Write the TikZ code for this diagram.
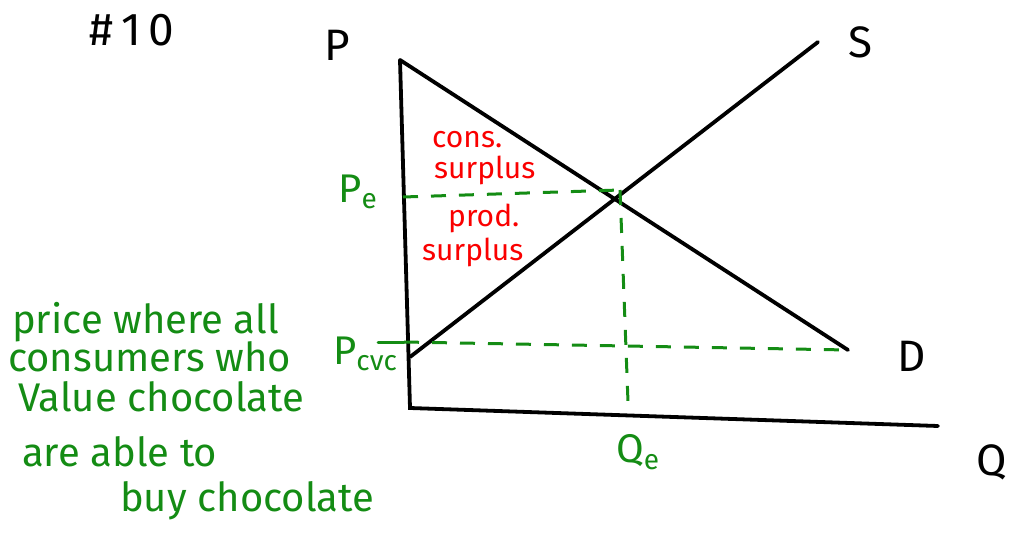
\documentclass[tikz,border=0pt]{standalone}
\usepackage{fontspec}
\setmainfont{Fira Sans}
\definecolor{hgreen}{RGB}{20,140,20}
\definecolor{hred}{RGB}{250,0,0}
\begin{document}
\begin{tikzpicture}[x=1pt,y=-1pt,
  axis/.style={line width=3.8pt,line cap=round,black},
  curve/.style={line width=3.8pt,line cap=round,black},
  gdash/.style={line width=3pt,hgreen,dash pattern=on 15pt off 13pt},
  lbl/.style={font=\fontsize{44}{46}\selectfont,black,inner sep=0pt},
  glbl/.style={font=\fontsize{40}{42}\selectfont,hgreen,inner sep=0pt},
  gnote/.style={font=\fontsize{40}{42}\selectfont,hgreen,inner sep=0pt,anchor=base west},
  rnote/.style={font=\fontsize{30}{30}\selectfont,hred,inner sep=0pt,anchor=base west}]
\useasboundingbox (0,0) rectangle (1017,540);
% coordinates
\coordinate (top) at (400,60);
\coordinate (orig) at (410,408);
\coordinate (qend) at (938,426);
\coordinate (dend) at (848,350);
\coordinate (sstart) at (410,357);
\coordinate (send) at (818,42);
\coordinate (eq) at (620,190);
\coordinate (peax) at (403,197);
\coordinate (qeax) at (628,402);
\coordinate (pcvcstart) at (378,342);
\coordinate (pcvctick) at (404,342);
% axes and curves
\draw[axis] (top) -- (orig) -- (qend);
\draw[curve] (top) -- (dend);
\draw[curve] (sstart) -- (send);
% green dashed lines
\draw[gdash] (peax) -- (eq);
\draw[gdash] (eq) -- (qeax);
\draw[line width=3pt,hgreen,line cap=round] (pcvcstart) -- (pcvctick);
\draw[gdash] (pcvctick) -- (dend);
% labels
\node[lbl,font=\fontsize{46}{48}\selectfont] (num) at (132,30) {\#\,1\,0};
\node[lbl] (plabel) at (337,45) {P};
\node[lbl] (slabel) at (860,42) {S};
\node[lbl] (dlabel) at (912,356) {D};
\node[lbl] (qlabel) at (992,462) {Q};
\node[glbl] (pe) at (358,192) {P\textsubscript{e}};
\node[glbl] (qe) at (638,452) {Q\textsubscript{e}};
\node[glbl,anchor=west] (pcvc) at (333,354) {P\textsubscript{cvc}};
\node[rnote] (cs1) at (432,148) {cons.};
\node[rnote] (cs2) at (434,179) {surplus};
\node[rnote] (ps1) at (448,226) {prod.};
\node[rnote] (ps2) at (422,260) {surplus};
% note
\node[gnote] (n1) at (12,333) {price where all};
\node[gnote] (n2) at (8,371) {consumers who};
\node[gnote] (n3) at (18,411) {Value chocolate};
\node[gnote] (n4) at (22,466) {are able to};
\node[gnote] (n5) at (120,511) {buy chocolate};
\end{tikzpicture}
\end{document}
